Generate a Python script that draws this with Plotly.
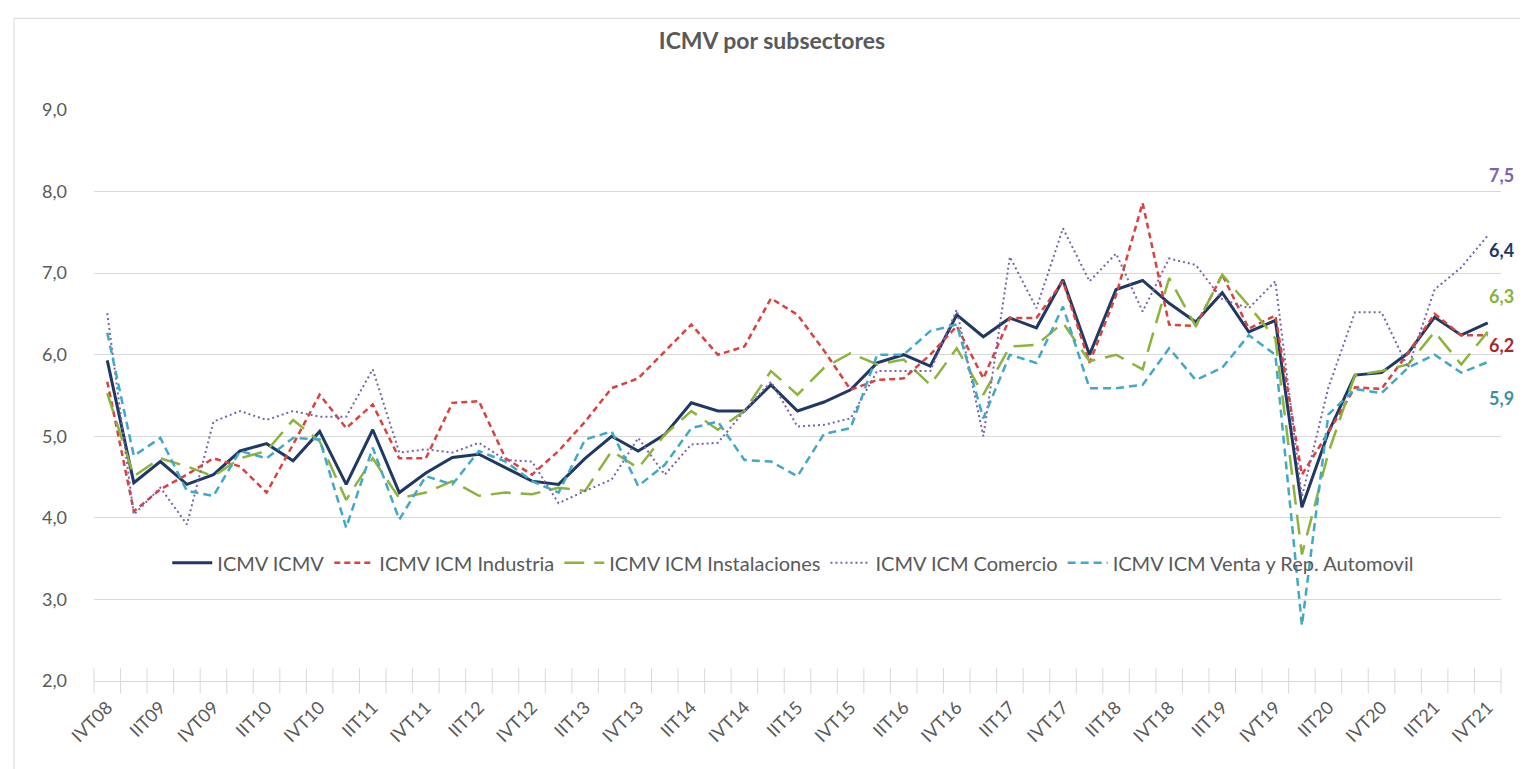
import plotly.graph_objects as go

# ---- data ----
quarters = []
for yr in range(8, 22):
    for q in ["IT", "IIT", "IIIT", "IVT"]:
        quarters.append(f"{q}{yr:02d}")
quarters = quarters[3:]  # IVT08 ... IVT21

icmv = [5.93, 4.43, 4.69, 4.41, 4.53, 4.82, 4.91, 4.70, 5.06, 4.41, 5.08, 4.31, 4.55, 4.74,
        4.78, 4.61, 4.45, 4.41, 4.73, 5.00, 4.82, 5.02, 5.41, 5.31, 5.31, 5.63, 5.31, 5.42,
        5.57, 5.90, 6.00, 5.86, 6.49, 6.22, 6.45, 6.33, 6.92, 6.00, 6.80, 6.91, 6.63, 6.40,
        6.76, 6.28, 6.42, 4.13, 5.05, 5.75, 5.78, 6.02, 6.46, 6.24, 6.39]
industria = [5.67, 4.08, 4.35, 4.53, 4.73, 4.63, 4.31, 4.90, 5.51, 5.10, 5.39, 4.73, 4.73, 5.41,
             5.43, 4.73, 4.53, 4.82, 5.18, 5.59, 5.71, 6.04, 6.37, 6.00, 6.10, 6.69, 6.49, 6.05,
             5.57, 5.69, 5.71, 6.00, 6.35, 5.71, 6.45, 6.45, 6.90, 5.90, 6.73, 7.86, 6.37, 6.35,
             6.98, 6.32, 6.48, 4.53, 5.05, 5.60, 5.58, 6.02, 6.50, 6.24, 6.24]
instalaciones = [5.53, 4.51, 4.73, 4.63, 4.51, 4.73, 4.82, 5.20, 4.94, 4.22, 4.73, 4.24, 4.31, 4.45,
                 4.27, 4.31, 4.29, 4.37, 4.33, 4.82, 4.61, 5.02, 5.31, 5.08, 5.31, 5.80, 5.51, 5.84,
                 6.02, 5.88, 5.94, 5.63, 6.08, 5.51, 6.10, 6.12, 6.39, 5.92, 6.00, 5.82, 6.94, 6.35,
                 6.98, 6.60, 6.20, 3.55, 4.80, 5.75, 5.80, 5.88, 6.28, 5.88, 6.28]
comercio = [6.51, 4.04, 4.37, 3.92, 5.18, 5.31, 5.20, 5.31, 5.24, 5.24, 5.82, 4.80, 4.84, 4.80,
            4.92, 4.71, 4.69, 4.18, 4.33, 4.47, 4.98, 4.53, 4.90, 4.92, 5.31, 5.67, 5.12, 5.14,
            5.22, 5.80, 5.80, 5.80, 6.55, 5.00, 7.20, 6.57, 7.55, 6.90, 7.24, 6.53, 7.18, 7.10,
            6.68, 6.57, 6.90, 4.26, 5.60, 6.52, 6.52, 5.84, 6.80, 7.07, 7.46]
venta = [6.27, 4.76, 4.98, 4.33, 4.27, 4.82, 4.73, 4.98, 4.96, 3.88, 4.86, 3.98, 4.51, 4.41,
         4.82, 4.69, 4.45, 4.31, 4.96, 5.06, 4.39, 4.65, 5.10, 5.18, 4.71, 4.69, 4.51, 5.03,
         5.10, 6.00, 6.00, 6.29, 6.37, 5.22, 6.00, 5.90, 6.59, 5.59, 5.59, 5.63, 6.08, 5.69,
         5.84, 6.24, 6.00, 2.68, 5.27, 5.58, 5.53, 5.84, 6.00, 5.78, 5.91]

series_names = ["ICMV ICMV", "ICMV ICM Industria", "ICMV ICM Instalaciones",
                "ICMV ICM Comercio", "ICMV ICM Venta y Rep. Automovil"]
series_values = [icmv, industria, instalaciones, comercio, venta]

# ---- style ----
FONT = "Lato, Open Sans, sans-serif"
TXT = "#595959"
GRID = "#d9d9d9"
colors = ["#1f3864", "#d9423e", "#8cb43c", "#7b62a9", "#3fa9c6"]
dashes = ["solid", "6px,4px", "20px,10px", "2px,3px", "8px,5px"]
widths = [3, 2.5, 2.5, 2, 2.5]
label_colors = ["#203864", "#a6292d", "#8ab13b", "#7e63a8", "#3f8fa3"]
label_y = [7.28, 6.12, 6.72, 8.20, 5.47]

x = list(range(len(quarters)))

fig = go.Figure()
for name, vals, c, d, w in zip(series_names, series_values, colors, dashes, widths):
    fig.add_trace(go.Scatter(x=x, y=vals, mode="lines", name=name,
                             line=dict(color=c, dash=d, width=w),
                             customdata=quarters,
                             hovertemplate="%{customdata}: %{y:.1f}<extra>" + name + "</extra>"))

# crossing category-boundary ticks on the x axis
bounds = [i - 0.5 for i in range(len(quarters) + 1)]
fig.add_trace(go.Scatter(x=bounds, y=[2] * len(bounds), mode="markers",
                         marker=dict(symbol="line-ns", size=18,
                                     line=dict(color=GRID, width=1)),
                         showlegend=False, hoverinfo="skip", cliponaxis=False))

# end-of-series value labels
for vals, lc, ly in zip(series_values, label_colors, label_y):
    fig.add_annotation(x=len(quarters) - 1, y=ly, xref="x", yref="y",
                       xshift=14, text=f"<b>{vals[-1]:.1f}</b>".replace(".", ","),
                       showarrow=False, font=dict(family=FONT, size=18, color=lc))

# chart frame
fig.add_shape(type="rect", xref="paper", yref="paper",
              x0=-0.0569, x1=1.0206, y0=-0.1558, y1=1.1605,
              line=dict(color=GRID, width=1), fillcolor="rgba(0,0,0,0)", layer="below")

fig.update_layout(
    width=1528, height=769,
    margin=dict(l=86, r=35, t=102, b=96),
    paper_bgcolor="white", plot_bgcolor="white",
    separators=",.",
    font=dict(family=FONT, color=TXT),
    title=dict(text="<b>ICMV por subsectores</b>", x=0.5, xanchor="center",
               y=0.957, yanchor="middle", font=dict(family=FONT, size=23, color=TXT)),
    showlegend=True,
    legend=dict(orientation="h", x=0.497, xanchor="center", y=0.207, yanchor="middle",
                bgcolor="rgba(0,0,0,0)", font=dict(family=FONT, size=20, color=TXT),
                itemwidth=40),
    xaxis=dict(range=[-0.5, len(quarters) - 0.5], tickmode="array",
               tickvals=x[::2], ticktext=quarters[::2], tickangle=-45,
               tickfont=dict(family=FONT, size=18, color=TXT),
               showgrid=False, zeroline=False, showline=True, linecolor=GRID,
               ticks="", ticklabelstandoff=8, fixedrange=True),
    yaxis=dict(range=[2, 9], dtick=1, tickformat=".1f", showgrid=True, gridcolor=GRID,
               zeroline=False, showline=False, ticks="",
               tickfont=dict(family=FONT, size=18, color=TXT), ticklabelstandoff=26),
)

fig.write_html("out.html")
